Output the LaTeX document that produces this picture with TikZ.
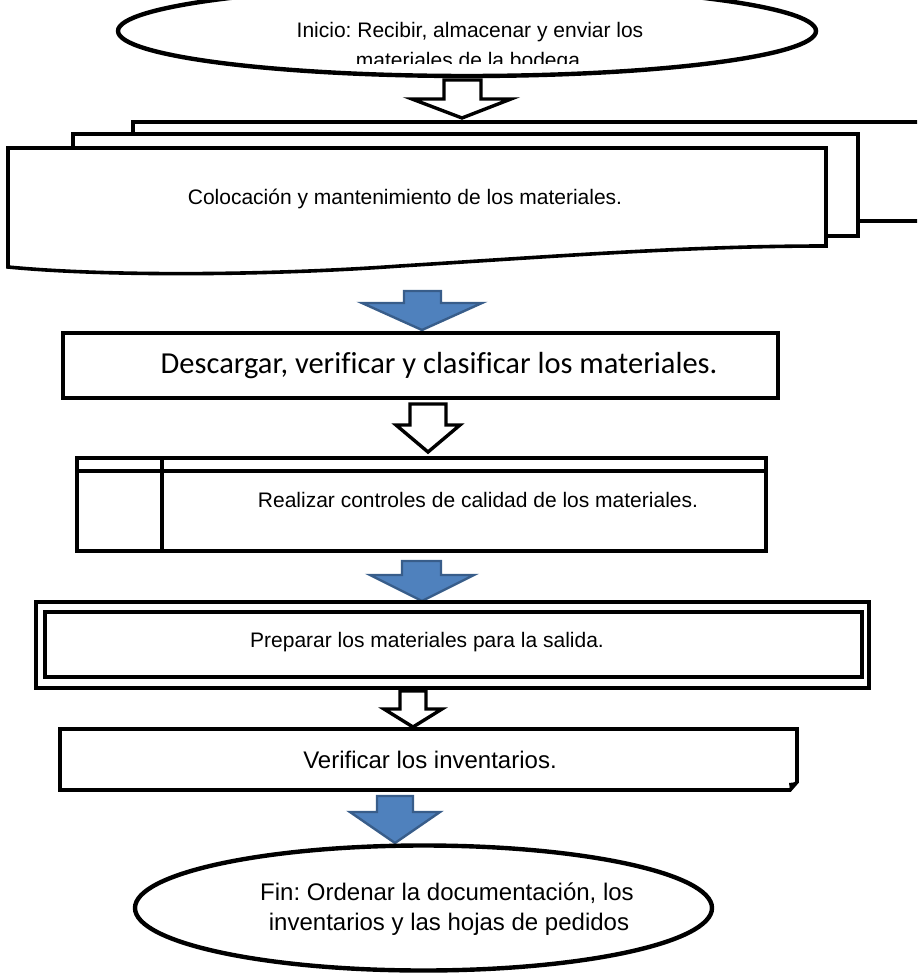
\documentclass[tikz,border=0pt]{standalone}
\usepackage{fontspec}
\setmainfont{Liberation Sans}
\newfontfamily\calibrifont[Ligatures=NoCommon]{Carlito}
\usetikzlibrary{shapes.geometric}
\definecolor{arrowfill}{RGB}{79,129,189}
\definecolor{arrowborder}{RGB}{56,93,138}
\frenchspacing
\begin{document}
\begin{tikzpicture}[x=1pt,y=-1pt,line join=miter,
  boxline/.style={draw,line width=3.6pt,fill=white},
  endshape/.style={draw,ellipse,line width=4.4pt,fill=white,inner sep=0pt},
  whitearrow/.style={draw,line width=3.4pt,fill=white,line join=miter},
  bluearrow/.style={draw=arrowborder,line width=2.4pt,fill=arrowfill,line join=miter},
  txt/.style={font=\fontsize{21}{30}\selectfont,inner sep=0pt,anchor=base},
  bigtxt/.style={font=\fontsize{24}{30}\selectfont,inner sep=0pt,anchor=base}]
\useasboundingbox (0,0) rectangle (917,973);
\clip (0,0) rectangle (917,973);

% ---- start ellipse
\node[endshape,minimum width=698pt,minimum height=90pt] (start) at (467,31) {};
\begin{scope}
  \clip (150,0) rectangle (780,64);
  \node[txt] (start1) at (470,38) {Inicio: Recibir, almacenar y enviar los};
  \node[txt] (start2) at (468,68) {materiales de la bodega};
\end{scope}

% ---- white arrow 1
\draw[whitearrow] (444,80) -- (481,80) -- (481,99) -- (511,99) -- (462,118) -- (412,99) -- (444,99) -- cycle;

% ---- multidocument
\draw[line width=3.6pt,fill=white] (133,140) -- (133,122) -- (930,122);
\draw[line width=3.6pt] (858,221) -- (930,221);
\draw[line width=3.6pt,fill=white] (73,150) -- (73,134) -- (858,134) -- (858,236) -- (826,236);
\draw[line width=3.6pt,fill=white] (8,148) -- (826,148) -- (826,246)
   .. controls (690,246) and (560,256) .. (400,266)
   .. controls (260,276) and (100,276) .. (8,267) -- cycle;
\node[txt] (docs) at (405,205) {Colocación y mantenimiento de los materiales.};

% ---- blue arrow 1
\draw[bluearrow] (404,291) -- (441,291) -- (441,303) -- (482,303) -- (422,330) -- (362,303) -- (404,303) -- cycle;

% ---- box descargar
\node[boxline,minimum width=715pt,minimum height=65pt] (desc) at (420.5,365.5) {};
\node[font=\calibrifont\fontsize{30.5}{36}\selectfont,inner sep=0pt,anchor=base] (desctxt) at (439,373) {Descargar, verificar y clasificar los materiales.};

% ---- white arrow 2
\draw[whitearrow] (410,404) -- (446,404) -- (446,425) -- (460,425) -- (428,452) -- (396,425) -- (410,425) -- cycle;

% ---- predefined box
\node[boxline,minimum width=689pt,minimum height=93pt] (qc) at (421.5,504.5) {};
\draw[line width=3.6pt] (77,471) -- (766,471);
\draw[line width=3.6pt] (162,458) -- (162,551);
\node[txt] (qctxt) at (478,507) {Realizar controles de calidad de los materiales.};

% ---- blue arrow 2
\draw[bluearrow] (402,561) -- (441,561) -- (441,575) -- (474,575) -- (422,601) -- (370,575) -- (402,575) -- cycle;

% ---- double frame box
\node[boxline,minimum width=833pt,minimum height=86pt] (prep) at (452.5,645) {};
\node[draw,line width=3.6pt,minimum width=817pt,minimum height=65pt] (prepin) at (453.5,644.5) {};
\node[txt] (preptxt) at (427,647) {Preparar los materiales para la salida.};

% ---- white arrow 3
\draw[whitearrow] (400,691) -- (426,691) -- (426,709) -- (442,709) -- (413,727) -- (384,709) -- (400,709) -- cycle;

% ---- verificar box
\draw[line width=3.6pt,fill=white] (60,729) -- (797,729) -- (797,782) -- (790,790) -- (60,790) -- cycle;
\fill (797,782) -- (790,790) -- (789,783) -- cycle;
\coordinate (inv) at (428.5,759.5);
\node[bigtxt] (invtxt) at (430,768) {Verificar los inventarios.};

% ---- blue arrow 3
\draw[bluearrow] (377,796) -- (413,796) -- (413,812) -- (440,812) -- (395,843) -- (350,812) -- (377,812) -- cycle;

% ---- end ellipse
\node[endshape,minimum width=577pt,minimum height=125pt] (end) at (423.5,908) {};
\node[bigtxt] (end1) at (447,900) {Fin: Ordenar la documentación, los};
\node[bigtxt] (end2) at (449,930) {inventarios y las hojas de pedidos};
\end{tikzpicture}
\end{document}
